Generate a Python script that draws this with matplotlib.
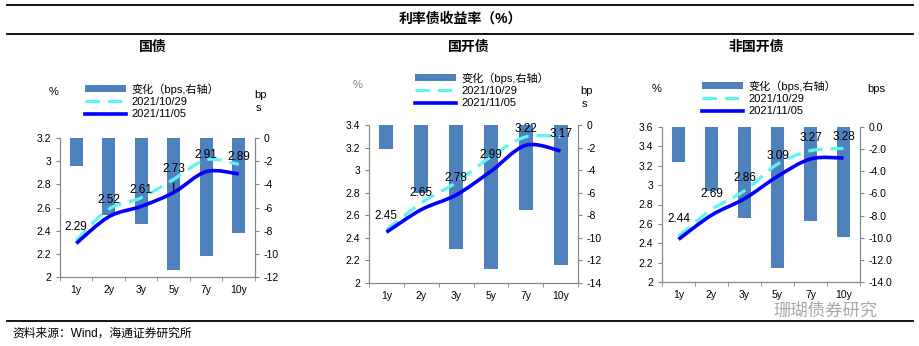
import matplotlib
matplotlib.use("Agg")
import matplotlib.pyplot as plt
from matplotlib.path import Path
from matplotlib.patches import PathPatch, Patch
from matplotlib.lines import Line2D
import numpy as np

plt.rcParams['font.family'] = ['Liberation Sans', 'Noto Sans CJK SC', 'DejaVu Sans']

tenors = ["1y", "2y", "3y", "5y", "7y", "10y"]

# 国债
gz_old = [2.315, 2.586, 2.684, 2.844, 3.012, 2.972]
gz_new = [2.29, 2.52, 2.61, 2.73, 2.91, 2.89]
gz_chg = [-2.45, -6.65, -7.4, -11.4, -10.2, -8.2]

# 国开债
gk_old = [2.471, 2.71, 2.89, 3.118, 3.295, 3.294]
gk_new = [2.45, 2.65, 2.78, 2.99, 3.22, 3.17]
gk_chg = [-2.1, -6.0, -11.0, -12.8, -7.5, -12.4]

# 非国开债
fg_old = [2.472, 2.748, 2.942, 3.217, 3.355, 3.379]
fg_new = [2.44, 2.69, 2.86, 3.09, 3.27, 3.28]
fg_chg = [-3.2, -5.8, -8.2, -12.7, -8.5, -9.9]

BAR = '#4F81BD'
CYAN = '#5CF5F5'
BLUE = '#0000FF'
GRAY = '#868686'

W, H = 920, 346
fig = plt.figure(figsize=(W / 100, H / 100), dpi=100)


def fx(px):
    return px / W


def fy(py):
    return 1 - py / H


def smooth(ax, ys, **kw):
    # Catmull-Rom style smoothing, drawn as bezier path in data coords
    pts = np.column_stack([np.arange(len(ys)), ys]).astype(float)
    p = np.vstack([pts[0], pts, pts[-1]])
    verts = [pts[0]]
    codes = [Path.MOVETO]
    for i in range(1, len(p) - 2):
        c1 = p[i] + (p[i + 1] - p[i - 1]) / 6
        c2 = p[i + 1] - (p[i + 2] - p[i]) / 6
        verts += [c1, c2, p[i + 1]]
        codes += [Path.CURVE4] * 3
    ax.add_patch(PathPatch(Path(verts, codes), fill=False, **kw))


panels = [
    dict(title="国债", old=gz_old, new=gz_new, chg=gz_chg, box=(60, 255, 138, 277),
         ylim=(2, 3.2), y2lim=(-12, 0), y2fmt="{:.0f}", lab_off=12,
         leg=(85, 83), pct=(54, 92), unit=[("bp", 261, 95), ("s", 258, 108)], pct_col='black'),
    dict(title="国开债", old=gk_old, new=gk_new, chg=gk_chg, box=(369, 578, 125, 283),
         ylim=(2, 3.4), y2lim=(-14, 0), y2fmt="{:.0f}", lab_off=12,
         leg=(415, 72), pct=(358, 85), unit=[("bp", 587, 91), ("s", 584, 104)], pct_col='#808080'),
    dict(title="非国开债", old=fg_old, new=fg_new, chg=fg_chg, box=(662, 860, 127, 282),
         ylim=(2, 3.6), y2lim=(-14, 0), y2fmt="{:.1f}", lab_off=15,
         leg=(702, 80), pct=(657, 89), unit=[("bps", 876, 89)], pct_col='black'),
]

x = np.arange(len(tenors))

for pn in panels:
    l, r, t, b = pn['box']
    ax = fig.add_axes([fx(l), fy(b), fx(r - l), (b - t) / H])
    ax2 = ax.twinx()
    ax2.bar(x, pn['chg'], width=0.4, color=BAR)
    ax2.set_ylim(*pn['y2lim'])
    ax.set_zorder(ax2.get_zorder() + 1)
    ax.patch.set_visible(False)

    smooth(ax, pn['old'], edgecolor=CYAN, lw=2.3, linestyle=(0, (4.5, 2.5)), capstyle='butt')
    smooth(ax, pn['new'], edgecolor=BLUE, lw=2.6)
    ax.set_xlim(-0.5, len(tenors) - 0.5)
    ax.set_ylim(*pn['ylim'])

    yt = np.arange(pn['ylim'][0], pn['ylim'][1] + 0.01, 0.2)
    ax.set_yticks(yt)
    ax.set_yticklabels([f"{v:g}" for v in np.round(yt, 1)])
    y2t = np.arange(pn['y2lim'][0], 0.01, 2)
    ax2.set_yticks(y2t)
    ax2.set_yticklabels([pn['y2fmt'].format(v) for v in y2t])

    ax.set_xticks(x)
    ax.set_xticklabels(tenors)
    ax.set_xticks(np.arange(-0.5, len(tenors)), minor=True)
    ax.tick_params(axis='x', which='major', length=0, labelsize=7.5, pad=6)
    ax.tick_params(axis='x', which='minor', length=3, color=GRAY, direction='out')
    ax.tick_params(axis='y', length=3, color=GRAY, labelsize=7.5)
    ax2.tick_params(axis='y', length=3, color=GRAY, labelsize=7.5)
    for a in (ax, ax2):
        a.spines['top'].set_visible(False)
        for s in ('left', 'right', 'bottom'):
            a.spines[s].set_color(GRAY)
            a.spines[s].set_linewidth(0.8)

    for i, v in enumerate(pn['new']):
        off = pn['lab_off']
        if pn['title'] == "国债" and i == 3:
            ax.annotate(f"{v:.2f}", (i, v), xytext=(0, 17), textcoords='offset points',
                        ha='center', va='center', fontsize=8.5,
                        arrowprops=dict(arrowstyle='-', color='black', lw=0.8,
                                        shrinkA=4, shrinkB=0))
        else:
            ax.annotate(f"{v:.2f}", (i, v), xytext=(0, off), textcoords='offset points',
                        ha='center', va='center', fontsize=8.5)

    handles = [Patch(facecolor=BAR, edgecolor='none'),
               Line2D([], [], color=CYAN, lw=2.3, linestyle=(0, (4.5, 2.5))),
               Line2D([], [], color=BLUE, lw=2.6)]
    labels = ["变化（bps,右轴）", "2021/10/29", "2021/11/05"]
    lx, ly = pn['leg']
    fig.legend(handles, labels, loc='upper left', bbox_to_anchor=(fx(lx), fy(ly)),
               frameon=False, fontsize=8, handlelength=3.7, handleheight=0.6,
               handletextpad=0.5, labelspacing=0.22, borderpad=0, borderaxespad=0)

    fig.text(fx(pn['pct'][0]), fy(pn['pct'][1]), "%", fontsize=8, ha='center', va='center',
             color=pn['pct_col'])
    for txt, ux, uy in pn['unit']:
        fig.text(fx(ux), fy(uy), txt, fontsize=8, ha='center', va='center')

    fig.text(fx((l + r) / 2 - 5), fy(47), pn['title'], fontsize=10, fontweight='bold',
             ha='center', va='center')

# header / footer
for yy in (5, 34, 321):
    fig.add_artist(Line2D([fx(7), fx(913)], [fy(yy), fy(yy)], color='black', lw=1.3))
fig.text(0.5, fy(19), "利率债收益率（%）", fontsize=10, fontweight='bold', ha='center', va='center')
fig.text(fx(12), fy(334), "资料来源：Wind，海通证券研究所", fontsize=8.5, ha='left', va='center')

# watermark
fig.text(fx(826), fy(310), "珊瑚债券研究", fontsize=12.5, ha='center', va='center',
         color='#9a9a9a', alpha=0.85)

fig.savefig("out.png", dpi=100)
